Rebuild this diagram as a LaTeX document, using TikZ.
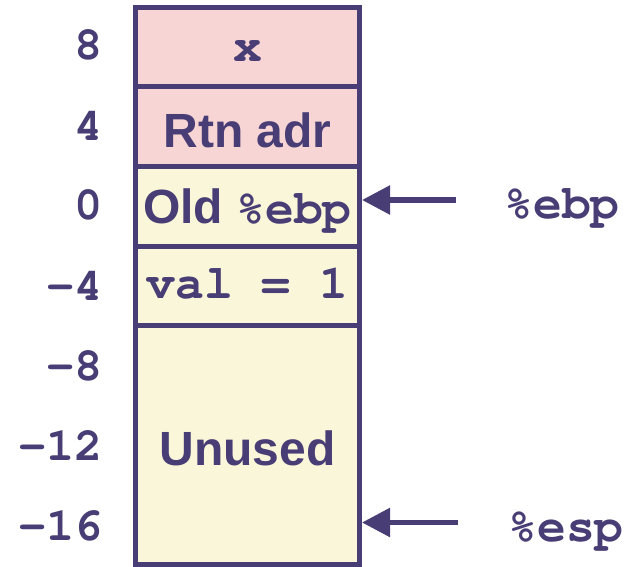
\documentclass[tikz,border=0pt]{standalone}
\usepackage{fontspec}
\setmainfont{Liberation Sans}
\newfontfamily\monob{TeX Gyre Cursor}
\usetikzlibrary{arrows.meta}
\definecolor{ink}{HTML}{483D74}
\definecolor{pinkcell}{HTML}{F7D5D4}
\definecolor{yelcell}{HTML}{FAF6D9}
\tikzset{
  cellbox/.style={draw=ink,line width=5pt,minimum width=224pt,inner sep=0pt},
  sanstxt/.style={anchor=base,text=ink,font=\fontsize{48pt}{48pt}\selectfont\bfseries,inner sep=0pt},
  monotxt/.style={anchor=base,text=ink,font=\fontsize{48pt}{48pt}\selectfont\monob\bfseries,inner sep=0pt},
  numtxt/.style={anchor=base east,text=ink,font=\fontsize{47pt}{47pt}\selectfont\monob\bfseries,inner sep=0pt},
  ptr/.style={draw=ink,line width=5.5pt,-{Triangle[length=28pt,width=28pt]}}
}
\begin{document}
\begin{tikzpicture}[x=1pt,y=-1pt]
\useasboundingbox (0,0) rectangle (637,567);
% cells
\node[cellbox,fill=pinkcell,minimum height=79.5pt] (cx) at (247.5,47.25) {};
\node[cellbox,fill=pinkcell,minimum height=79.5pt] (crtn) at (247.5,126.75) {};
\node[cellbox,fill=yelcell,minimum height=79.5pt] (cebp) at (247.5,206.25) {};
\node[cellbox,fill=yelcell,minimum height=79.5pt] (cval) at (247.5,285.75) {};
\node[cellbox,fill=yelcell,minimum height=239pt] (cunused) at (247.5,445) {};
% cell texts
\node[monotxt] (tx) at (247.5,62) {x};
\node[sanstxt] (trtn) at (247.5,147) {Rtn adr};
\node[anchor=base,text=ink,inner sep=0pt] (tebp) at (247.5,223) {\fontsize{48pt}{48pt}\selectfont\bfseries Old {\monob\bfseries\%ebp}};
\node[monotxt] (tval) at (247.5,298) {val = 1};
\node[sanstxt] (tunused) at (247.5,465) {Unused};
% offsets
\node[numtxt] (n8) at (103,60) {8};
\node[numtxt] (n4) at (103,140) {4};
\node[numtxt] (n0) at (103,219) {0};
\node[numtxt] (nm4) at (103,300) {-4};
\node[numtxt] (nm8) at (103,380) {-8};
\node[numtxt] (nm12) at (103,460) {-12};
\node[numtxt] (nm16) at (103,540) {-16};
% pointers
\coordinate (ebptail) at (456,200);
\coordinate (esptail) at (458,522.5);
\draw[ptr] (ebptail) -- (ebptail -| cebp.east);
\draw[ptr] (esptail) -- (esptail -| cunused.east);
\node[monotxt] (lebp) at (562,218) {\%ebp};
\node[monotxt] (lesp) at (566,541) {\%esp};
\end{tikzpicture}
\end{document}
